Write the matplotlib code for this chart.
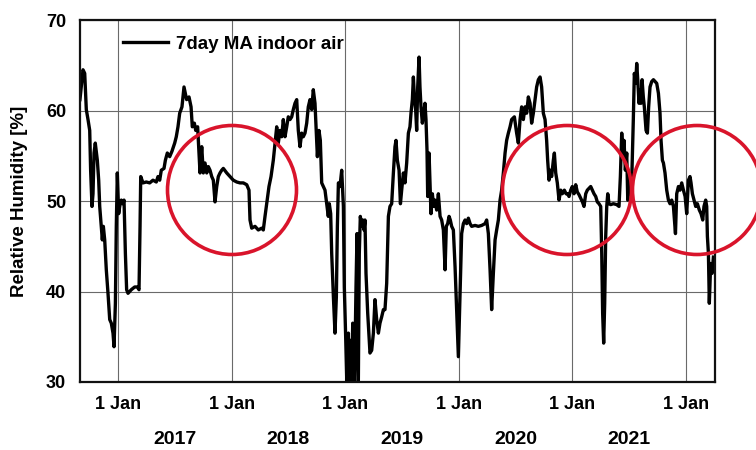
import matplotlib
matplotlib.use("Agg")
import matplotlib.pyplot as plt
from matplotlib.patches import Ellipse
from matplotlib.transforms import blended_transform_factory

plt.rcParams['font.family'] = ['Liberation Sans', 'DejaVu Sans']
plt.rcParams['font.weight'] = 'bold'

# 7-day moving average of indoor relative humidity, x in decimal years
years = [
    2016.665, 2016.692, 2016.707, 2016.712, 2016.721, 2016.736, 2016.751, 2016.759, 2016.771, 2016.780,
    2016.789, 2016.800, 2016.818, 2016.830, 2016.839, 2016.853, 2016.862, 2016.871, 2016.883, 2016.897,
    2016.912, 2016.927, 2016.941, 2016.956, 2016.965, 2016.977, 2016.985, 2016.994, 2017.006, 2017.015,
    2017.029, 2017.044, 2017.053, 2017.065, 2017.076, 2017.088, 2017.117, 2017.147, 2017.170, 2017.185,
    2017.194, 2017.200, 2017.220, 2017.249, 2017.279, 2017.308, 2017.337, 2017.352, 2017.367, 2017.381,
    2017.405, 2017.417, 2017.434, 2017.455, 2017.475, 2017.499, 2017.513, 2017.528, 2017.543, 2017.563,
    2017.581, 2017.604, 2017.625, 2017.643, 2017.654, 2017.672, 2017.684, 2017.701, 2017.713, 2017.722,
    2017.737, 2017.751, 2017.766, 2017.781, 2017.795, 2017.810, 2017.825, 2017.839, 2017.854, 2017.869,
    2017.883, 2017.898, 2017.913, 2017.927, 2017.957, 2017.986, 2018.015, 2018.045, 2018.074, 2018.103,
    2018.133, 2018.153, 2018.162, 2018.177, 2018.206, 2018.235, 2018.265, 2018.279, 2018.294, 2018.309,
    2018.329, 2018.347, 2018.367, 2018.382, 2018.397, 2018.411, 2018.426, 2018.441, 2018.455, 2018.470,
    2018.485, 2018.499, 2018.514, 2018.529, 2018.543, 2018.558, 2018.573, 2018.587, 2018.602, 2018.617,
    2018.631, 2018.646, 2018.661, 2018.675, 2018.690, 2018.705, 2018.719, 2018.734, 2018.743, 2018.755,
    2018.769, 2018.781, 2018.793, 2018.807, 2018.822, 2018.837, 2018.851, 2018.860, 2018.872, 2018.881,
    2018.896, 2018.910, 2018.922, 2018.931, 2018.940, 2018.954, 2018.969, 2018.984, 2018.992, 2019.004,
    2019.016, 2019.028, 2019.036, 2019.045, 2019.057, 2019.066, 2019.077, 2019.086, 2019.095, 2019.104,
    2019.115, 2019.124, 2019.133, 2019.145, 2019.154, 2019.165, 2019.174, 2019.183, 2019.198, 2019.218,
    2019.233, 2019.248, 2019.262, 2019.277, 2019.292, 2019.306, 2019.321, 2019.336, 2019.350, 2019.365,
    2019.380, 2019.394, 2019.409, 2019.424, 2019.438, 2019.447, 2019.459, 2019.474, 2019.486, 2019.497,
    2019.512, 2019.526, 2019.541, 2019.556, 2019.570, 2019.579, 2019.591, 2019.600, 2019.609, 2019.620,
    2019.629, 2019.638, 2019.650, 2019.658, 2019.667, 2019.679, 2019.691, 2019.702, 2019.711, 2019.720,
    2019.726, 2019.738, 2019.746, 2019.755, 2019.767, 2019.779, 2019.790, 2019.805, 2019.820, 2019.835,
    2019.849, 2019.864, 2019.879, 2019.890, 2019.902, 2019.914, 2019.925, 2019.937, 2019.952, 2019.967,
    2019.981, 2019.996, 2020.011, 2020.025, 2020.040, 2020.055, 2020.069, 2020.084, 2020.099, 2020.113,
    2020.143, 2020.172, 2020.201, 2020.231, 2020.245, 2020.260, 2020.275, 2020.289, 2020.304, 2020.319,
    2020.333, 2020.348, 2020.363, 2020.377, 2020.392, 2020.407, 2020.421, 2020.436, 2020.451, 2020.465,
    2020.489, 2020.509, 2020.524, 2020.539, 2020.553, 2020.568, 2020.583, 2020.597, 2020.612, 2020.627,
    2020.641, 2020.656, 2020.671, 2020.685, 2020.700, 2020.715, 2020.729, 2020.744, 2020.759, 2020.773,
    2020.782, 2020.794, 2020.806, 2020.817, 2020.832, 2020.841, 2020.853, 2020.867, 2020.882, 2020.897,
    2020.911, 2020.929, 2020.944, 2020.958, 2020.970, 2020.985, 2020.999, 2021.014, 2021.029, 2021.043,
    2021.058, 2021.073, 2021.088, 2021.102, 2021.117, 2021.131, 2021.146, 2021.161, 2021.175, 2021.190,
    2021.205, 2021.219, 2021.234, 2021.249, 2021.258, 2021.266, 2021.275, 2021.284, 2021.293, 2021.302,
    2021.311, 2021.322, 2021.337, 2021.360, 2021.390, 2021.410, 2021.422, 2021.434, 2021.443, 2021.454,
    2021.466, 2021.478, 2021.487, 2021.495, 2021.507, 2021.522, 2021.536, 2021.545, 2021.557, 2021.566,
    2021.575, 2021.586, 2021.595, 2021.604, 2021.613, 2021.624, 2021.633, 2021.648, 2021.660, 2021.671,
    2021.683, 2021.698, 2021.713, 2021.727, 2021.742, 2021.757, 2021.771, 2021.780, 2021.792, 2021.801,
    2021.815, 2021.830, 2021.845, 2021.859, 2021.874, 2021.889, 2021.898, 2021.907, 2021.918, 2021.933,
    2021.947, 2021.962, 2021.977, 2021.992, 2022.006, 2022.021, 2022.035, 2022.044, 2022.056, 2022.070,
    2022.085, 2022.100, 2022.117, 2022.132, 2022.147, 2022.158, 2022.173, 2022.182, 2022.188, 2022.197,
    2022.205, 2022.217, 2022.229, 2022.241,
]
rh = [
    61.2, 64.5, 64.1, 62.6, 60.1, 59.0, 57.8, 53.4, 49.4, 50.8,
    55.3, 56.4, 54.5, 52.3, 49.4, 47.2, 45.7, 47.2, 45.7, 42.4,
    39.8, 36.9, 36.5, 35.4, 33.9, 38.7, 47.2, 53.1, 48.6, 49.4,
    50.1, 49.7, 50.1, 44.2, 40.2, 39.8, 40.2, 40.5, 40.5, 40.2,
    47.2, 52.7, 52.0, 52.1, 52.0, 52.3, 52.1, 52.7, 52.3, 53.4,
    53.6, 54.5, 55.3, 54.9, 55.5, 56.4, 57.1, 58.2, 59.7, 60.4,
    62.6, 61.2, 61.5, 60.4, 58.2, 58.6, 57.8, 58.2, 55.3, 53.1,
    56.0, 53.1, 54.2, 53.1, 53.8, 53.4, 52.7, 52.3, 49.9, 51.6,
    52.7, 53.1, 53.4, 53.6, 53.1, 52.7, 52.3, 52.1, 52.0, 52.0,
    51.8, 51.2, 47.9, 47.0, 47.2, 46.8, 47.0, 46.8, 48.3, 49.7,
    51.6, 52.7, 54.5, 56.4, 58.2, 56.4, 57.8, 57.1, 59.0, 57.1,
    58.2, 59.3, 59.0, 59.3, 60.1, 60.8, 61.2, 57.8, 56.0, 57.5,
    57.1, 57.5, 58.6, 60.4, 61.2, 60.1, 62.3, 60.8, 58.2, 54.9,
    57.8, 56.7, 52.0, 51.6, 51.2, 49.7, 48.3, 49.7, 48.6, 44.2,
    39.4, 35.4, 39.4, 47.2, 52.0, 51.6, 53.4, 49.4, 40.5, 35.0,
    29.0, 35.4, 29.0, 34.6, 29.0, 36.5, 29.0, 33.2, 40.5, 46.4,
    29.0, 44.2, 48.3, 47.2, 47.9, 46.8, 47.9, 42.0, 37.6, 33.2,
    33.5, 35.4, 39.1, 36.9, 35.4, 36.5, 37.2, 38.0, 38.0, 40.9,
    48.3, 49.4, 49.7, 53.1, 56.0, 56.7, 54.5, 53.4, 49.7, 51.2,
    53.1, 52.0, 54.2, 57.5, 58.2, 59.7, 61.2, 63.7, 61.5, 60.1,
    57.8, 62.6, 65.9, 62.6, 60.4, 58.6, 59.7, 60.8, 59.0, 55.6,
    50.5, 55.3, 52.3, 48.6, 50.8, 49.4, 50.1, 49.0, 50.8, 48.3,
    47.9, 46.8, 42.4, 47.2, 47.5, 48.3, 47.9, 47.2, 46.8, 42.7,
    38.0, 32.8, 39.8, 46.4, 47.5, 47.9, 47.5, 48.1, 47.5, 47.2,
    47.3, 47.2, 47.3, 47.5, 47.9, 46.4, 42.4, 38.0, 42.0, 45.7,
    46.8, 47.9, 50.1, 51.2, 53.1, 55.3, 56.7, 57.5, 58.2, 59.0,
    59.3, 57.5, 56.4, 59.0, 60.4, 59.0, 60.4, 59.7, 61.5, 60.8,
    58.6, 59.7, 61.2, 62.6, 63.4, 63.7, 62.6, 59.7, 59.0, 56.7,
    54.5, 52.3, 53.4, 52.7, 54.5, 55.3, 53.1, 52.0, 50.1, 51.2,
    50.8, 51.2, 50.8, 50.8, 50.5, 51.2, 51.6, 50.8, 51.8, 51.0,
    50.7, 50.3, 49.9, 49.4, 50.8, 51.2, 51.4, 51.6, 51.2, 50.8,
    50.5, 49.9, 49.7, 49.4, 44.2, 37.6, 34.3, 38.7, 46.1, 49.4,
    50.8, 49.7, 49.6, 49.7, 49.6, 49.4, 52.7, 57.5, 55.3, 56.7,
    53.4, 55.3, 50.1, 53.1, 50.8, 52.3, 59.0, 64.1, 63.0, 65.2,
    63.4, 60.8, 62.3, 60.8, 63.4, 61.5, 60.4, 57.8, 57.5, 60.4,
    62.6, 63.2, 63.4, 63.2, 63.0, 61.9, 59.7, 56.7, 54.5, 54.2,
    53.1, 51.2, 50.1, 49.7, 50.1, 49.4, 47.9, 46.4, 50.8, 51.6,
    51.2, 52.0, 51.2, 50.5, 48.6, 52.3, 52.7, 52.0, 50.8, 50.1,
    49.4, 49.7, 49.0, 48.6, 47.9, 49.4, 50.1, 49.4, 46.1, 44.2,
    38.7, 43.1, 42.0, 43.8,
]

jan_ticks = [2017, 2018, 2019, 2020, 2021, 2022]
year_labels = ['2017', '2018', '2019', '2020', '2021']
circle_centers = [(232, 190), (567, 190), (697, 190)]  # pixel positions of the highlight circles

fig = plt.figure(figsize=(7.56, 4.5), dpi=100)
ax = fig.add_axes([80 / 756, 1 - 382 / 450, 635 / 756, 362 / 450])

ax.plot(years, rh, color='black', lw=2.4, label='7day MA indoor air', solid_joinstyle='round')

ax.set_xlim(2016.6655, 2022.255)
ax.set_ylim(30, 70)
ax.set_yticks([30, 40, 50, 60, 70])
ax.set_xticks(jan_ticks)
ax.set_xticklabels(['1 Jan'] * len(jan_ticks))
ax.tick_params(length=0, labelsize=13, pad=10)
ax.grid(True, color='#6a6a6a', lw=0.8)
for s in ax.spines.values():
    s.set_linewidth(1.6)
    s.set_color('#111111')

trans = blended_transform_factory(ax.transData, ax.transAxes)
for i, lab in enumerate(year_labels):
    ax.text(jan_ticks[i] + 0.5, -0.16, lab, transform=trans, ha='center', va='center',
            fontsize=14, fontweight='bold')

fig.text(20 / 756, 1 - 201 / 450, 'Relative Humidity [%]', rotation=90, ha='center', va='center',
         fontsize=13.5, fontweight='bold')

ax.legend(loc='upper left', bbox_to_anchor=(43 / 635, 0.957), frameon=False, fontsize=13.5,
          handlelength=2.4, handletextpad=0.4, borderpad=0, borderaxespad=0)

for cx, cy in circle_centers:
    e = Ellipse((cx / 756, 1 - cy / 450), 129 / 756, 129 / 450, transform=fig.transFigure,
                fill=False, edgecolor='#d9142b', lw=2.6, clip_on=False)
    fig.add_artist(e)

fig.savefig('out.png', dpi=100)
